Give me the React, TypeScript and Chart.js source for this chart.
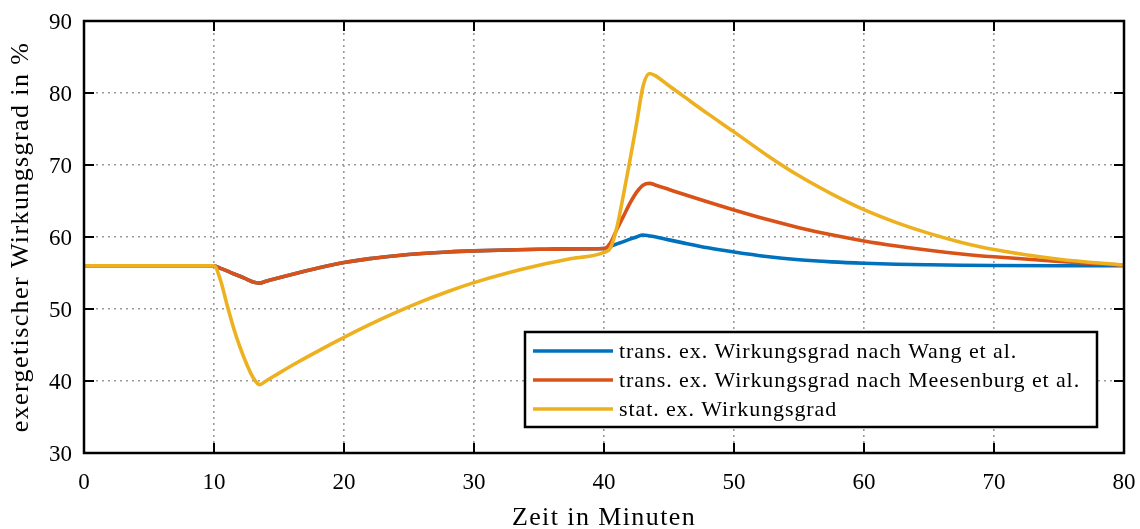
import React, { useEffect, useRef } from "react";
import { Chart, registerables } from "chart.js";

Chart.register(...registerables);

const timeMinutes = [0, 10, 10.5, 11, 11.5, 12, 12.5, 13, 13.5, 14, 15, 16.5, 18, 20, 22, 24, 26, 28, 30, 32.5, 35, 37.5, 40, 40.5, 41, 41.5, 42, 42.5, 43, 43.5, 44, 45, 46, 48, 50, 52.5, 55, 57.5, 60, 62.5, 65, 67.5, 70, 75, 80];

const wangValues = [56, 56, 55.65, 55.3, 54.9, 54.55, 54.15, 53.75, 53.6, 53.85, 54.35, 55.05, 55.7, 56.45, 57.0, 57.4, 57.7, 57.92, 58.07, 58.2, 58.29, 58.35, 58.4, 58.7, 59.05, 59.35, 59.7, 60.0, 60.28, 60.15, 60.0, 59.6, 59.22, 58.5, 57.92, 57.3, 56.85, 56.55, 56.35, 56.22, 56.14, 56.08, 56.04, 56.01, 56.0];

const meesenburgValues = [56, 56, 55.65, 55.3, 54.9, 54.55, 54.15, 53.75, 53.6, 53.85, 54.35, 55.05, 55.7, 56.45, 57.0, 57.4, 57.7, 57.92, 58.07, 58.2, 58.29, 58.35, 58.4, 59.2, 61.1, 62.9, 64.7, 66.2, 67.2, 67.45, 67.2, 66.6, 66.0, 64.85, 63.75, 62.45, 61.3, 60.3, 59.45, 58.75, 58.15, 57.65, 57.25, 56.6, 56.1];

const statValues = [56, 56, 54.0, 50.6, 47.4, 44.7, 42.4, 40.5, 39.5, 40.0, 41.1, 42.68, 44.16, 46.06, 47.86, 49.53, 51.06, 52.44, 53.66, 54.96, 56.06, 57.0, 57.85, 58.5, 61.4, 65.9, 70.7, 75.7, 80.9, 82.7, 82.35, 81.0, 79.7, 77.1, 74.6, 71.4, 68.5, 66.0, 63.8, 62.0, 60.5, 59.25, 58.25, 56.9, 56.1];

const seriesLabels = [
  "trans. ex. Wirkungsgrad nach Wang et al.",
  "trans. ex. Wirkungsgrad nach Meesenburg et al.",
  "stat. ex. Wirkungsgrad",
];
const seriesColors = ["#0072BD", "#D95319", "#EDB120"];

const xTicks = [0, 10, 20, 30, 40, 50, 60, 70, 80];
const yTicks = [30, 40, 50, 60, 70, 80, 90];
const xTitle = "Zeit in Minuten";
const yTitle = "exergetischer Wirkungsgrad in %";

const FONT = "'Liberation Serif', 'DejaVu Serif', serif";

const framePlugin = {
  id: "frame",
  afterDatasetsDraw(chart: any) {
    const { ctx, chartArea } = chart;
    const { left, right, top, bottom } = chartArea;
    const xs = chart.scales.x;
    const ys = chart.scales.y;
    ctx.save();
    ctx.strokeStyle = "#000";
    ctx.lineWidth = 2;
    const tl = 10;
    ctx.beginPath();
    xTicks.forEach((t) => {
      const px = xs.getPixelForValue(t);
      ctx.moveTo(px, bottom);
      ctx.lineTo(px, bottom - tl);
      ctx.moveTo(px, top);
      ctx.lineTo(px, top + tl);
    });
    yTicks.forEach((t) => {
      const py = ys.getPixelForValue(t);
      ctx.moveTo(left, py);
      ctx.lineTo(left + tl, py);
      ctx.moveTo(right, py);
      ctx.lineTo(right - tl, py);
    });
    ctx.stroke();
    ctx.lineWidth = 2.5;
    ctx.strokeRect(left, top, right - left, bottom - top);

    // tick labels
    ctx.fillStyle = "#000";
    ctx.font = `23px ${FONT}`;
    ctx.textBaseline = "alphabetic";
    ctx.textAlign = "center";
    xTicks.forEach((t) => {
      ctx.fillText(String(t), xs.getPixelForValue(t), bottom + 36);
    });
    ctx.textAlign = "right";
    yTicks.forEach((t) => {
      ctx.fillText(String(t), left - 12, ys.getPixelForValue(t) + 8);
    });

    // legend box
    const bx = right - 599;
    const by = bottom - 121;
    const bw = 572;
    const bh = 95;
    ctx.fillStyle = "#fff";
    ctx.fillRect(bx, by, bw, bh);
    ctx.lineWidth = 2.5;
    ctx.strokeStyle = "#000";
    ctx.strokeRect(bx, by, bw, bh);
    ctx.font = `22px ${FONT}`;
    (ctx as any).letterSpacing = "0.9px";
    ctx.textAlign = "left";
    seriesLabels.forEach((lab, i) => {
      const ry = by + 19 + i * 29;
      ctx.strokeStyle = seriesColors[i];
      ctx.lineWidth = 3.5;
      ctx.beginPath();
      ctx.moveTo(bx + 8, ry);
      ctx.lineTo(bx + 88, ry);
      ctx.stroke();
      ctx.fillStyle = "#000";
      ctx.fillText(lab, bx + 94, ry + 7);
    });

    // axis titles
    ctx.font = `26px ${FONT}`;
    (ctx as any).letterSpacing = "1.4px";
    ctx.textAlign = "center";
    ctx.fillText(xTitle, (left + right) / 2, 525);
    ctx.translate(28, (top + bottom) / 2);
    ctx.rotate(-Math.PI / 2);
    ctx.fillText(yTitle, 0, 0);
    ctx.restore();
  },
};

export default function App() {
  const ref = useRef<HTMLCanvasElement>(null);
  useEffect(() => {
    document.body.style.margin = "0";
    const mk = (vals: number[]) => timeMinutes.map((t, i) => ({ x: t, y: vals[i] }));
    const allVals = [wangValues, meesenburgValues, statValues];
    const chart = new Chart(ref.current!, {
      type: "line",
      data: {
        datasets: allVals.map((v, i) => ({
          label: seriesLabels[i],
          data: mk(v),
          borderColor: seriesColors[i],
          backgroundColor: seriesColors[i],
          borderWidth: 3.6,
          pointRadius: 0,
          cubicInterpolationMode: "monotone" as const,
          order: 2 - i,
        })),
      },
      options: {
        animation: false,
        responsive: false,
        maintainAspectRatio: false,
        layout: { padding: { left: 0, right: 16, top: 21, bottom: 0 } },
        plugins: { legend: { display: false }, tooltip: { enabled: false } },
        scales: {
          x: {
            type: "linear",
            min: 0,
            max: 80,
            afterBuildTicks: (s: any) => {
              s.ticks = xTicks.map((v) => ({ value: v }));
            },
            afterFit: (s: any) => {
              s.height = 76;
              s.paddingLeft = 0;
              s.paddingRight = 0;
            },
            grid: {
              color: "#9a9a9a",
              lineWidth: 1.6,
              drawTicks: false,
            },
            border: { display: false, dash: [2, 4] },
            ticks: { display: false },
          },
          y: {
            type: "linear",
            min: 30,
            max: 90,
            afterBuildTicks: (s: any) => {
              s.ticks = yTicks.map((v) => ({ value: v }));
            },
            afterFit: (s: any) => {
              s.width = 84;
              s.paddingTop = 0;
              s.paddingBottom = 0;
            },
            grid: {
              color: "#9a9a9a",
              lineWidth: 1.6,
              drawTicks: false,
            },
            border: { display: false, dash: [2, 4] },
            ticks: { display: false },
          },
        },
      },
      plugins: [framePlugin],
    });
    return () => chart.destroy();
  }, []);
  return (
    <div style={{ width: 1140, height: 529 }}>
      <canvas ref={ref} width={1140} height={529} style={{ display: "block", width: 1140, height: 529 }} />
    </div>
  );
}
